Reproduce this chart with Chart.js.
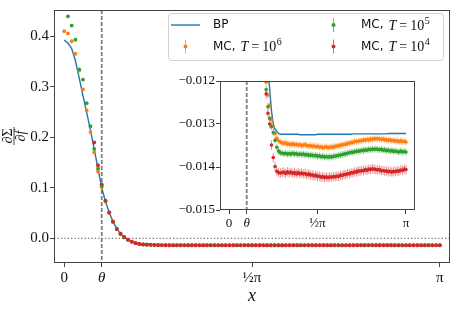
<!DOCTYPE html>
<html>
<head>
<meta charset="utf-8">
<script src="https://cdn.jsdelivr.net/npm/chart.js@4.4.1/dist/chart.umd.min.js"></script>
<style>
  html, body { margin: 0; padding: 0; background: #fff; }
  #wrap { position: relative; width: 457px; height: 310px; }
  #main { position: absolute; left: 0; top: 0; }
  #inset { position: absolute; left: 160px; top: 68px; }
</style>
</head>
<body>
<div id="wrap">
  <canvas id="main" width="457" height="310"></canvas>
  <canvas id="inset" width="262" height="167"></canvas>
</div>
<script>
// grid: 101 samples on [0, pi]
const nPts = 101;
const xs = Array.from({ length: nPts }, (_, i) => i * Math.PI / (nPts - 1));
const theta = 0.1 * Math.PI;

// BP curve
const bpVals = [
  0.393, 0.387, 0.376, 0.352, 0.318, 0.283, 0.249, 0.214, 0.177, 0.138,
  0.100, 0.073, 0.051, 0.033, 0.019, 0.009, 0.002, -0.003, -0.0065, -0.009,
  -0.0108, -0.0113, -0.0117, -0.0122, -0.0127, -0.0130, -0.01312, -0.01318, -0.01322, -0.01324,
  -0.01324, -0.01324, -0.01324, -0.01324, -0.01324, -0.01324, -0.01324, -0.01324, -0.01324, -0.01324,
  -0.01325, -0.01325, -0.01325, -0.01325, -0.01325, -0.01325, -0.01325, -0.01325, -0.01325, -0.01325,
  -0.01324, -0.01324, -0.01324, -0.01324, -0.01324, -0.01324, -0.01324, -0.01324, -0.01324, -0.01324,
  -0.01324, -0.01324, -0.01324, -0.01324, -0.01324, -0.01324, -0.01324, -0.01324, -0.01324, -0.01324,
  -0.01323, -0.01323, -0.01323, -0.01323, -0.01323, -0.01323, -0.01323, -0.01323, -0.01323, -0.01323,
  -0.01323, -0.01323, -0.01323, -0.01323, -0.01323, -0.01323, -0.01323, -0.01323, -0.01323, -0.01323,
  -0.01322, -0.01322, -0.01322, -0.01322, -0.01322, -0.01322, -0.01322, -0.01322, -0.01322, -0.01322,
  -0.01322
];

// MC, T = 10^6
const mc6Vals = [
  0.4107, 0.4062, 0.3906, 0.3659, 0.3327, 0.2951, 0.2534, 0.2105, 0.1704, 0.1326,
  0.1014, 0.073, 0.050, 0.032, 0.018, 0.0085, 0.0018, -0.0032, -0.0067, -0.0095,
  -0.0112, -0.01203, -0.01233, -0.01256, -0.0129, -0.01306, -0.01322, -0.01333, -0.01339, -0.01342,
  -0.01344, -0.01345, -0.01344, -0.01347, -0.01346, -0.01348, -0.01346, -0.01348, -0.01347, -0.01349,
  -0.01348, -0.01350, -0.01349, -0.01348, -0.01350, -0.01351, -0.01350, -0.01352, -0.01351, -0.01353,
  -0.01352, -0.01354, -0.01353, -0.01355, -0.01354, -0.01353, -0.01355, -0.01354, -0.01353, -0.01354,
  -0.01352, -0.01351, -0.01351, -0.01349, -0.01349, -0.01347, -0.01347, -0.01345, -0.01345, -0.01343,
  -0.01343, -0.01341, -0.01341, -0.01340, -0.01339, -0.01339, -0.01337, -0.01338, -0.01336, -0.01337,
  -0.01335, -0.01336, -0.01334, -0.01335, -0.01334, -0.01335, -0.01336, -0.01335, -0.01337, -0.01337,
  -0.01338, -0.01337, -0.01339, -0.01338, -0.01340, -0.01339, -0.01341, -0.01339, -0.01341, -0.01340,
  -0.01342
];

// MC, T = 10^5
const mc5Vals = [
  null, 0.440, 0.4218, 0.3938, 0.335, 0.3146, 0.2678, 0.2222, 0.1774, 0.1384,
  0.104, 0.074, 0.051, 0.033, 0.019, 0.009, 0.002, -0.003, -0.0067, -0.0094,
  -0.0112, -0.0122, -0.0126, -0.01287, -0.01306, -0.0132, -0.01338, -0.01354, -0.01363, -0.01367,
  -0.01368, -0.01369, -0.01368, -0.01370, -0.01369, -0.01370, -0.01368, -0.01370, -0.01369, -0.01371,
  -0.01370, -0.01371, -0.01370, -0.01372, -0.01371, -0.01373, -0.01372, -0.01373, -0.01374, -0.01373,
  -0.01375, -0.01374, -0.01376, -0.01375, -0.01377, -0.01376, -0.01377, -0.01376, -0.01377, -0.01375,
  -0.01375, -0.01374, -0.01373, -0.01372, -0.01371, -0.01370, -0.01369, -0.01368, -0.01367, -0.01366,
  -0.01366, -0.01364, -0.01364, -0.01363, -0.01363, -0.01361, -0.01362, -0.01360, -0.01361, -0.01359,
  -0.01360, -0.01358, -0.01359, -0.01358, -0.01359, -0.01360, -0.01359, -0.01361, -0.01360, -0.01362,
  -0.01361, -0.01363, -0.01362, -0.01364, -0.01363, -0.01364, -0.01365, -0.01363, -0.01365, -0.01364,
  -0.01365
];

// MC, T = 10^4
const mc4Vals = [
  null, null, null, null, null, null, null, null, 0.1899, 0.145,
  0.107, 0.0748, 0.0515, 0.0331, 0.0183, 0.0092, 0.0027, -0.0025, -0.0068, -0.0097,
  -0.0113, -0.0123, -0.01275, -0.0130, -0.01349, -0.01378, -0.01399, -0.0141, -0.01413, -0.01414,
  -0.01413, -0.01412, -0.01415, -0.01411, -0.01414, -0.01412, -0.01415, -0.01413, -0.01416, -0.01413,
  -0.01416, -0.01414, -0.01416, -0.01415, -0.01418, -0.01416, -0.01419, -0.01418, -0.01421, -0.01419,
  -0.01422, -0.01421, -0.01424, -0.01422, -0.01425, -0.01423, -0.01425, -0.01423, -0.01424, -0.01422,
  -0.01423, -0.01421, -0.01422, -0.01419, -0.01420, -0.01417, -0.01418, -0.01415, -0.01416, -0.01413,
  -0.01414, -0.01411, -0.01412, -0.01409, -0.01410, -0.01408, -0.01409, -0.01406, -0.01408, -0.01405,
  -0.01406, -0.01404, -0.01405, -0.01406, -0.01407, -0.01406, -0.01409, -0.01408, -0.01410, -0.01409,
  -0.01411, -0.01410, -0.01412, -0.01410, -0.01411, -0.01409, -0.01410, -0.01407, -0.01408, -0.01405,
  -0.01406
];

// error bar half-widths
const mc6Err = 0.00008;
const mc5Err = 0.00008;
const mc4Err = 0.00011;

const mcExponents = ['6', '5', '4'];
const xTickVals = [0, theta, Math.PI / 2, Math.PI];
const xTickLabels = ['0', 'θ', '½π', 'π'];
const mainYTicks = [0, 0.1, 0.2, 0.3, 0.4];
const insetYTicks = [-0.015, -0.014, -0.013, -0.012];

const BLUE = '#1f77b4', ORANGE = '#ff7f0e', GREEN = '#2ca02c', RED = '#d62728';
const SERIF = '"Liberation Serif", "DejaVu Serif", serif';
const SANS = '"DejaVu Sans", sans-serif';
const SPINE = '#444';

const toPts = (vals) => xs.map((x, i) => ({ x, y: vals[i] })).filter(p => p.y !== null);

function makeDatasets(r) {
  return [
    { label: 'BP', data: toPts(bpVals), showLine: true, borderColor: BLUE, borderWidth: 1.4,
      pointRadius: 0, order: 4 },
    { label: 'MC, T = 10^6', data: toPts(mc6Vals), backgroundColor: ORANGE, pointRadius: r,
      pointBorderWidth: 0, err: mc6Err, errColor: 'rgba(255,127,14,0.5)', order: 3 },
    { label: 'MC, T = 10^5', data: toPts(mc5Vals), backgroundColor: GREEN, pointRadius: r,
      pointBorderWidth: 0, err: mc5Err, errColor: 'rgba(44,160,44,0.5)', order: 2 },
    { label: 'MC, T = 10^4', data: toPts(mc4Vals), backgroundColor: RED, pointRadius: r,
      pointBorderWidth: 0, err: mc4Err, errColor: 'rgba(214,39,40,0.5)', order: 1 }
  ];
}

// dashed reference lines + error bars, under the markers
const refLines = {
  id: 'refLines',
  beforeDatasetsDraw(chart, args, opts) {
    const { ctx, chartArea: a, scales: { x, y } } = chart;
    ctx.save();
    ctx.beginPath();
    ctx.rect(a.left, a.top, a.width, a.height);
    ctx.clip();
    ctx.strokeStyle = '#7f7f7f';
    if (opts.zeroLine) {
      const py = y.getPixelForValue(0);
      ctx.lineWidth = 1.3;
      ctx.setLineDash([1.4, 2]);
      ctx.beginPath();
      ctx.moveTo(a.left, py);
      ctx.lineTo(a.right, py);
      ctx.stroke();
    }
    const px = x.getPixelForValue(theta);
    ctx.lineWidth = 1.8;
    ctx.setLineDash([4, 2]);
    ctx.beginPath();
    ctx.moveTo(px, a.top);
    ctx.lineTo(px, a.bottom);
    ctx.stroke();
    ctx.setLineDash([]);
    // error bars
    chart.data.datasets.forEach(ds => {
      if (!ds.err) return;
      ctx.strokeStyle = ds.errColor;
      ctx.lineWidth = 1;
      ctx.beginPath();
      ds.data.forEach(p => {
        const bx = x.getPixelForValue(p.x);
        ctx.moveTo(bx, y.getPixelForValue(p.y + ds.err));
        ctx.lineTo(bx, y.getPixelForValue(p.y - ds.err));
      });
      ctx.stroke();
    });
    ctx.restore();
  },
  afterDraw(chart) {
    const { ctx, chartArea: a } = chart;
    ctx.save();
    ctx.strokeStyle = SPINE;
    ctx.lineWidth = 1;
    ctx.strokeRect(Math.round(a.left) + 0.5, Math.round(a.top) + 0.5,
      Math.round(a.width) - 1, Math.round(a.height) - 1);
    ctx.restore();
  }
};

function mcLabel(ctx, x, y, exp) {
  ctx.fillStyle = '#111';
  ctx.textAlign = 'left';
  ctx.textBaseline = 'middle';
  ctx.font = '12px ' + SANS;
  ctx.fillText('MC,', x, y);
  x += ctx.measureText('MC,').width + 5;
  ctx.font = 'italic 14px ' + SERIF;
  ctx.fillText('T', x, y + 1);
  x += ctx.measureText('T').width + 3;
  ctx.font = '14px ' + SERIF;
  ctx.fillText('=', x, y + 1);
  x += ctx.measureText('=').width + 3;
  ctx.fillText('10', x, y + 1);
  x += ctx.measureText('10').width + 0.5;
  ctx.font = '10px ' + SERIF;
  ctx.fillText(exp, x, y - 4);
}

function errMarker(ctx, x, y, color, faint) {
  ctx.strokeStyle = faint;
  ctx.lineWidth = 1;
  ctx.beginPath();
  ctx.moveTo(x, y - 7);
  ctx.lineTo(x, y + 7);
  ctx.stroke();
  ctx.fillStyle = color;
  ctx.beginPath();
  ctx.arc(x, y, 2, 0, Math.PI * 2);
  ctx.fill();
}

const legendAndLabel = {
  id: 'legendAndLabel',
  afterDraw(chart) {
    const { ctx } = chart;
    ctx.save();
    // legend frame
    const lx = 168.5, ly = 13.5, lw = 275, lh = 47;
    ctx.fillStyle = 'rgba(255,255,255,0.85)';
    ctx.strokeStyle = '#d0d0d0';
    ctx.lineWidth = 1;
    ctx.beginPath();
    ctx.roundRect(lx, ly, lw, lh, 3);
    ctx.fill();
    ctx.stroke();

    // BP
    ctx.strokeStyle = BLUE;
    ctx.lineWidth = 1.4;
    ctx.beginPath();
    ctx.moveTo(171, 25);
    ctx.lineTo(200, 25);
    ctx.stroke();
    ctx.fillStyle = '#111';
    ctx.font = '12px ' + SANS;
    ctx.textBaseline = 'middle';
    ctx.fillText('BP', 213, 25);

    errMarker(ctx, 185.5, 46.5, ORANGE, 'rgba(255,127,14,0.7)');
    mcLabel(ctx, 213, 46.5, mcExponents[0]);
    errMarker(ctx, 333.5, 25, GREEN, 'rgba(44,160,44,0.7)');
    mcLabel(ctx, 361, 25, mcExponents[1]);
    errMarker(ctx, 333.5, 46.5, RED, 'rgba(214,39,40,0.7)');
    mcLabel(ctx, 361, 46.5, mcExponents[2]);

    // y label: dSigma / df, rotated
    ctx.translate(14, 136);
    ctx.rotate(-Math.PI / 2);
    ctx.fillStyle = '#111';
    ctx.textAlign = 'center';
    ctx.textBaseline = 'alphabetic';
    ctx.font = '14px ' + SERIF;
    ctx.fillText('∂Σ', 0, -2);
    ctx.strokeStyle = '#111';
    ctx.lineWidth = 0.8;
    ctx.beginPath();
    ctx.moveTo(-9, 0);
    ctx.lineTo(9, 0);
    ctx.stroke();
    ctx.font = 'italic 14px ' + SERIF;
    ctx.fillText('∂f', 0, 11);
    ctx.restore();
  }
};

const tickFont = (size) => (c) => ({
  family: SERIF, size: size, style: (c.tick && c.index === 1) ? 'italic' : 'normal'
});

function xScale(min, max, h, size) {
  return {
    type: 'linear', min, max,
    afterBuildTicks: (s) => { s.ticks = xTickVals.map(v => ({ value: v })); },
    afterFit: (s) => { s.height = h; },
    ticks: { callback: (v, i) => xTickLabels[i], color: '#111', font: tickFont(size),
      maxRotation: 0, autoSkip: false, padding: 2 },
    grid: { drawOnChartArea: false, drawTicks: true, tickLength: 4, tickColor: SPINE },
    border: { display: false }
  };
}

Chart.defaults.animation = false;

new Chart(document.getElementById('main'), {
  type: 'scatter',
  data: { datasets: makeDatasets(1.9) },
  options: {
    responsive: false,
    devicePixelRatio: 1,
    events: [],
    layout: { padding: { top: 5, right: 7, left: 0, bottom: 0 } },
    plugins: { legend: { display: false }, tooltip: { enabled: false },
      refLines: { zeroLine: true } },
    scales: {
      x: Object.assign(xScale(-0.085, Math.PI + 0.085, 47, 15), {
        title: { display: true, text: 'x', color: '#111',
          font: { family: SERIF, size: 18, style: 'italic' }, padding: { top: 0, bottom: 3 } }
      }),
      y: {
        type: 'linear', min: -0.049, max: 0.4526,
        afterBuildTicks: (s) => { s.ticks = mainYTicks.map(v => ({ value: v })); },
        afterFit: (s) => { s.width = 54; },
        ticks: { callback: (v) => v.toFixed(1), color: '#111',
          font: { family: SERIF, size: 15 }, padding: 1 },
        grid: { drawOnChartArea: false, drawTicks: true, tickLength: 4, tickColor: SPINE },
        border: { display: false }
      }
    }
  },
  plugins: [refLines, legendAndLabel]
});

new Chart(document.getElementById('inset'), {
  type: 'scatter',
  data: { datasets: makeDatasets(1.8) },
  options: {
    responsive: false,
    devicePixelRatio: 1,
    events: [],
    layout: { padding: { top: 13, right: 7, left: 0, bottom: 0 } },
    plugins: { legend: { display: false }, tooltip: { enabled: false },
      refLines: { zeroLine: false } },
    scales: {
      x: xScale(-0.16, Math.PI + 0.16, 25, 13),
      y: {
        type: 'linear', min: -0.015, max: -0.012,
        afterBuildTicks: (s) => { s.ticks = insetYTicks.map(v => ({ value: v })); },
        afterFit: (s) => { s.width = 60; },
        ticks: { callback: (v) => '−' + Math.abs(v).toFixed(3), color: '#111',
          font: { family: SERIF, size: 13 }, padding: 1 },
        grid: { drawOnChartArea: false, drawTicks: true, tickLength: 4, tickColor: SPINE },
        border: { display: false }
      }
    }
  },
  plugins: [refLines]
});
</script>
</body>
</html>
